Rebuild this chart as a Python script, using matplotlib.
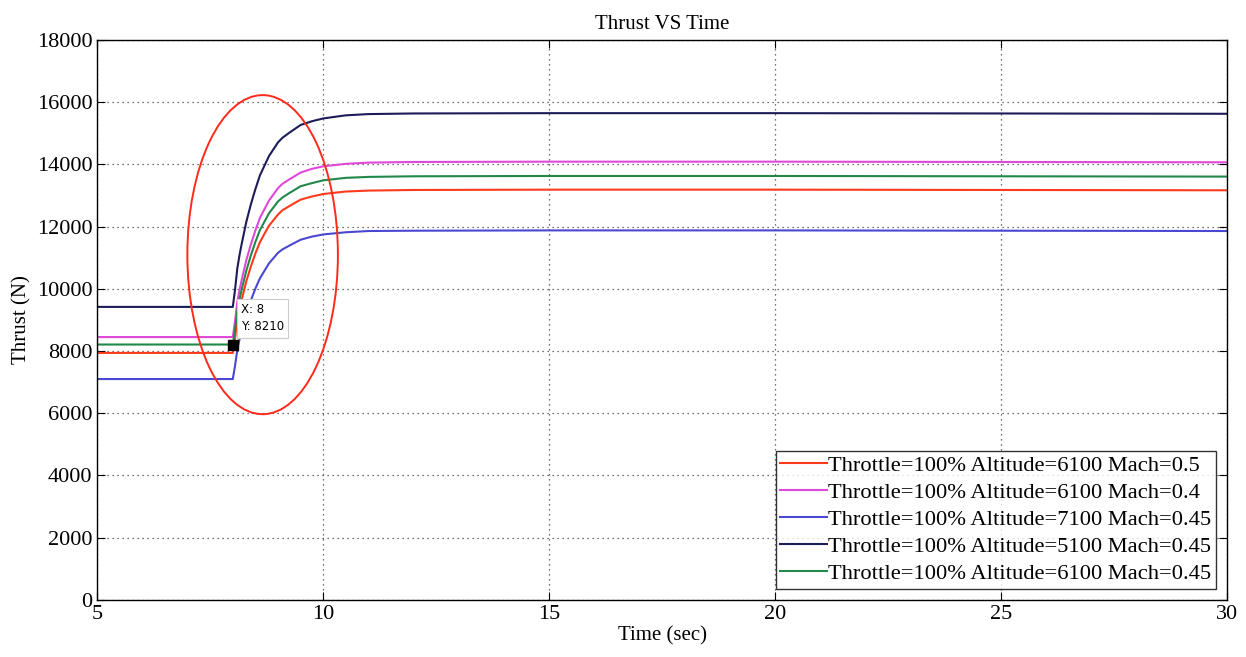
import matplotlib.pyplot as plt
from matplotlib.patches import Ellipse

# time axis (sec)
t = [5, 8, 8.05, 8.1, 8.15, 8.2, 8.3, 8.4, 8.5, 8.6, 8.7, 8.8, 9.0, 9.1, 9.25, 9.5, 9.75, 10, 10.5, 11,
     12, 15, 20, 25, 30]

# thrust (N) for each flight condition
thrust_6100_05 = [7940, 7940, 8410, 8990, 9360, 9670, 10250, 10720, 11140, 11500, 11770, 12030, 12390, 12530,
                  12660, 12870, 12970, 13050, 13130, 13160, 13180, 13190, 13190, 13180, 13170]
thrust_6100_04 = [8450, 8450, 8960, 9580, 9970, 10310, 10930, 11430, 11880, 12280, 12560, 12840, 13240, 13380,
                  13520, 13740, 13860, 13940, 14020, 14060, 14080, 14090, 14090, 14080, 14070]
thrust_7100_045 = [7100, 7100, 7530, 8050, 8390, 8670, 9200, 9630, 10010, 10340, 10580, 10820, 11160, 11270,
                   11390, 11580, 11680, 11750, 11820, 11860, 11870, 11880, 11880, 11870, 11860]
thrust_5100_045 = [9420, 9420, 9980, 10660, 11100, 11470, 12160, 12720, 13210, 13650, 13960, 14270, 14710, 14860,
                   15020, 15270, 15390, 15480, 15580, 15620, 15640, 15650, 15650, 15640, 15630]
thrust_6100_045 = [8210, 8210, 8700, 9290, 9670, 10000, 10590, 11080, 11510, 11890, 12160, 12430, 12810, 12940,
                   13080, 13300, 13400, 13490, 13570, 13600, 13620, 13630, 13630, 13620, 13610]

labels = ['Throttle=100% Altitude=6100 Mach=0.5',
          'Throttle=100% Altitude=6100 Mach=0.4',
          'Throttle=100% Altitude=7100 Mach=0.45',
          'Throttle=100% Altitude=5100 Mach=0.45',
          'Throttle=100% Altitude=6100 Mach=0.45']
colors = ['#ff3a1c', '#e048d8', '#4a48d0', '#1c1c58', '#22884a']

# data tip
tip_x = 8
tip_y = 8210

plt.rcParams['font.family'] = ['Liberation Serif', 'DejaVu Serif']

fig = plt.figure(figsize=(12.46, 6.57), dpi=100)
ax = fig.add_axes([0.078, 0.087, 0.907, 0.852])

series = [thrust_6100_05, thrust_6100_04, thrust_7100_045, thrust_5100_045, thrust_6100_045]
for y, lab, c in zip(series, labels, colors):
    ax.plot(t, y, color=c, lw=1.5, label=lab)

ax.set_xlim(5, 30)
ax.set_ylim(0, 18000)
ax.set_xticks(range(5, 31, 5))
ax.set_yticks(range(0, 18001, 2000))
ax.grid(True, color='#444444', linestyle=(0, (1, 3)), lw=0.9)
ax.tick_params(direction='in', top=True, right=True, labelsize=16, length=6)
for s in ax.spines.values():
    s.set_linewidth(1.0)

ax.set_title('Thrust VS Time', fontsize=15, pad=8)
ax.set_xlabel('Time (sec)', fontsize=15, labelpad=2)
ax.set_ylabel('Thrust (N)', fontsize=15, labelpad=4)

# highlight the step response
ax.add_patch(Ellipse((8.66, 11100), 3.33, 10260, fill=False, edgecolor='#ff2a1a', lw=1.4, zorder=5))

# data cursor
ax.plot([tip_x], [tip_y], 's', color='black', ms=7, zorder=6)
ax.annotate(f'X: {tip_x}\nY: {tip_y}', xy=(tip_x, tip_y), xytext=(6, 8), textcoords='offset points',
            fontsize=8.5, family='DejaVu Sans', va='bottom', ha='left', linespacing=1.4,
            bbox=dict(boxstyle='square,pad=0.35', fc='white', ec='#cccccc', lw=0.8), zorder=7)

leg = ax.legend(loc='lower right', fontsize=16.2, frameon=True, fancybox=False, edgecolor='black',
                handlelength=2.1, handletextpad=0.05, borderpad=0.2, labelspacing=0.28, borderaxespad=0.5)
leg.get_frame().set_linewidth(1.0)

fig.savefig('out.png', dpi=100)
